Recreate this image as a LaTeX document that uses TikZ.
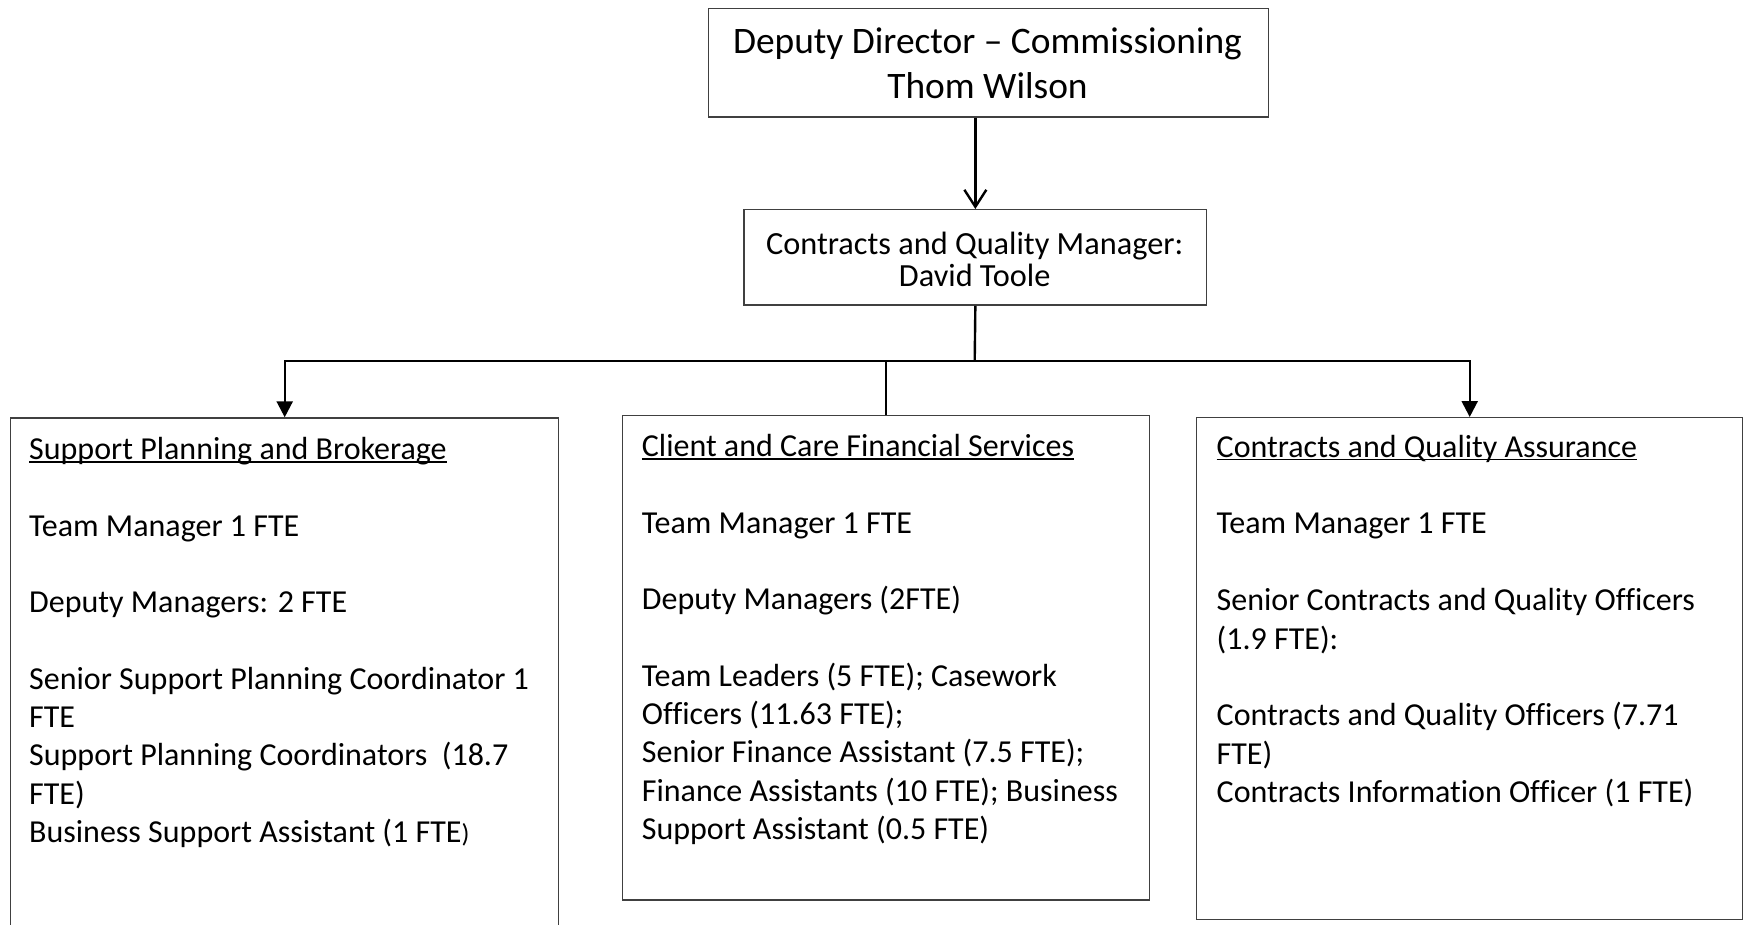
\documentclass[tikz,border=0pt]{standalone}
\usepackage{fontspec}
\setmainfont{Carlito}[Ligatures=NoCommon]
\usetikzlibrary{arrows.meta}
\newlength\ulw
\newcommand\myul[1]{\settowidth\ulw{#1}\rlap{\rule[-3.4pt]{\ulw}{1.7pt}}#1}
\newcommand\linestack[2]{\vtop{\baselineskip=#1\lineskiplimit=-1000pt\lineskip=0pt #2}}
\begin{document}
\begin{tikzpicture}[x=1pt,y=-1pt,
  box/.style={draw=black!75, line width=1.4pt, inner sep=0pt, anchor=north west},
  conn/.style={draw=black, line width=2.4pt},
  thinconn/.style={draw=black, line width=1.8pt},
  txt/.style={inner sep=0pt, anchor=base west, font=\fontsize{32}{38.3}\selectfont},
  opentip/.style={-{Straight Barb[length=17pt,width=22pt]}},
  filltip/.style={-{Triangle[length=16pt,width=16pt]}}]
\useasboundingbox (0,0) rectangle (1743,925);

% boxes
\node[box, minimum width=560pt, minimum height=108.5pt] (dd) at (707.5,8) {};
\node[box, minimum width=462.7pt, minimum height=95.5pt] (cqm) at (743.3,209) {};
\node[box, minimum width=548pt, minimum height=530pt] (spb) at (10,417.3) {};
\node[box, minimum width=526.5pt, minimum height=484.3pt] (ccfs) at (622,415) {};
\node[box, minimum width=546pt, minimum height=502pt] (cqa) at (1196,417) {};

% box texts
\node[inner sep=0pt, anchor=base, font=\fontsize{37.4}{45}\selectfont] (ddtext) at (987.5,53.5)
  {\linestack{45pt}{\halign{\hfil#\hfil\cr Deputy Director – Commissioning\cr Thom Wilson\cr}}};
\node[inner sep=0pt, anchor=base, font=\fontsize{32.3}{32}\selectfont] (cqmtext) at (974.7,255)
  {\linestack{32pt}{\halign{\hfil#\hfil\cr Contracts and Quality Manager:\cr David Toole\cr}}};

\node[txt] (spbtext) at (29,459.5) {\linestack{38.3pt}{%
  \hbox{\myul{Support Planning and Brokerage}}
  \hbox{}
  \hbox{Team Manager 1 FTE}
  \hbox{}
  \hbox{Deputy Managers: 2 FTE}
  \hbox{}
  \hbox{Senior Support Planning Coordinator 1}
  \hbox{FTE}
  \hbox{Support Planning Coordinators~ (18.7}
  \hbox{FTE)}
  \hbox{Business Support Assistant (1 FTE{\fontsize{26}{30}\selectfont )}}}};

\node[txt] (ccfstext) at (641.7,456.5) {\linestack{38.3pt}{%
  \hbox{\myul{Client and Care Financial Services}}
  \hbox{}
  \hbox{Team Manager 1 FTE}
  \hbox{}
  \hbox{Deputy Managers (2FTE)}
  \hbox{}
  \hbox{Team Leaders (5 FTE); Casework}
  \hbox{Officers (11.63 FTE);}
  \hbox{Senior Finance Assistant (7.5 FTE);}
  \hbox{Finance Assistants (10 FTE); Business}
  \hbox{Support Assistant (0.5 FTE)}}};

\node[txt] (cqatext) at (1216.5,457) {\linestack{38.4pt}{%
  \hbox{\myul{Contracts and Quality Assurance}}
  \hbox{}
  \hbox{Team Manager 1 FTE}
  \hbox{}
  \hbox{Senior Contracts and Quality Officers}
  \hbox{(1.9 FTE):}
  \hbox{}
  \hbox{Contracts and Quality Officers (7.71}
  \hbox{FTE)}
  \hbox{Contracts Information Officer (1 FTE)}}};

% connectors
\coordinate (bus) at (974.7,361);
\draw[conn, opentip] (cqm.north |- dd.south) -- (cqm.north);
\draw[conn] (cqm.south) -- (bus);
\draw[conn, filltip] (bus) -| (spb.north);
\draw[conn, filltip] (bus) -| (cqa.north);
\draw[thinconn] (ccfs.north |- bus) -- (ccfs.north);
\end{tikzpicture}
\end{document}
